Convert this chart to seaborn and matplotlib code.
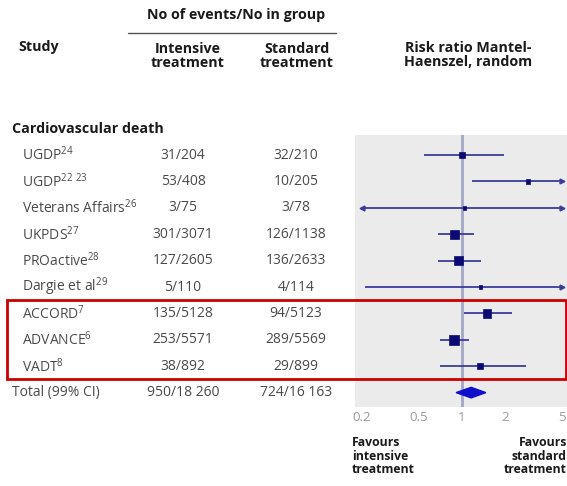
import numpy as np
import pandas as pd
import matplotlib
matplotlib.use("Agg")
import matplotlib.pyplot as plt
import matplotlib.transforms as mtransforms
from matplotlib.patches import Rectangle
from matplotlib.lines import Line2D
import seaborn as sns

# ---------------- data ----------------
study_names = ["UGDP", "UGDP", "Veterans Affairs", "UKPDS", "PROactive",
               "Dargie et al", "ACCORD", "ADVANCE", "VADT"]
study_refs = ["24", "22\\ 23", "26", "27", "28", "29", "7", "6", "8"]
intensive_events = [31, 53, 3, 301, 127, 5, 135, 253, 38]
intensive_n = [204, 408, 75, 3071, 2605, 110, 5128, 5571, 892]
standard_events = [32, 10, 3, 126, 136, 4, 94, 289, 29]
standard_n = [210, 205, 78, 1138, 2633, 114, 5123, 5569, 899]
risk_ratio = [1.00, 2.90, 1.04, 0.89, 0.95, 1.35, 1.50, 0.88, 1.33]
ci_low = [0.54, 1.17, 0.13, 0.68, 0.68, 0.21, 1.03, 0.70, 0.70]
ci_high = [1.97, 6.50, 8.30, 1.21, 1.36, 8.50, 2.24, 1.12, 2.80]
weights = [8.5, 3.0, 0.8, 20.0, 19.0, 1.0, 17.0, 24.0, 6.5]

section_label = "Cardiovascular death"
total_label = "Total (99% CI)"
total_intensive = (950, 18260)
total_standard = (724, 16163)
total_rr, total_lo, total_hi = 1.16, 0.91, 1.47

x_ticks = [0.2, 0.5, 1, 2, 5]
x_tick_labels = ["0.2", "0.5", "1", "2", "5"]
highlight_studies = ["ACCORD", "ADVANCE", "VADT"]

# ---------------- style ----------------
sns.set_theme(style="white")
plt.rcParams["font.family"] = ["Open Sans", "DejaVu Sans"]

W, H = 567, 486
fig = plt.figure(figsize=(W / 100, H / 100), dpi=100)

# panel position (pixels)
pl, pr, pt, pb = 355, 567, 135, 407
ax = fig.add_axes([pl / W, 1 - pb / H, (pr - pl) / W, (pb - pt) / H])
ax.set_facecolor("#ebebeb")
for s in ax.spines.values():
    s.set_visible(False)

n = len(study_names)
rows = np.arange(n)
total_row = n
xmin, xmax = 0.179, 5.42

df = pd.DataFrame({"study": study_names, "rr": risk_ratio, "lo": ci_low,
                   "hi": ci_high, "w": weights, "row": rows})

ax.set_xscale("log")
ax.set_xlim(xmin, xmax)
ax.set_ylim(9.545, -0.758)
ax.axvline(1, color="#a3a6c6", lw=2, zorder=1)

ci_col = "#3b3b9c"
lo_c = np.clip(df["lo"], 0.2, 5)
hi_c = np.clip(df["hi"], 0.2, 5)
ax.hlines(df["row"], lo_c, hi_c, color=ci_col, lw=1.3, zorder=2)
for r, lo, hi in zip(df["row"], df["lo"], df["hi"]):
    if lo < 0.2:
        ax.plot(0.2, r, marker="<", ms=3.5, color=ci_col, zorder=3)
    if hi > 5:
        ax.plot(5, r, marker=">", ms=3.5, color=ci_col, zorder=3)

sns.scatterplot(data=df, x="rr", y="row", size="w", sizes=(7, 48),
                marker="s", color="#0a0a72", edgecolor="#0a0a72",
                linewidth=0.5, legend=False, ax=ax, zorder=4)

dh = 0.2
ax.fill([total_lo, total_rr, total_hi, total_rr],
        [total_row, total_row - dh, total_row, total_row + dh],
        color="#1010cc", zorder=4)

ax.set_xticks(x_ticks)
ax.set_xticklabels(x_tick_labels)
ax.xaxis.set_minor_locator(matplotlib.ticker.NullLocator())
ax.tick_params(axis="x", length=0, pad=3, labelsize=9.5, labelcolor="#9a9a9a")
ax.set_yticks([])
ax.set_xlabel("")
ax.set_ylabel("")

# ---------------- text table ----------------
px = mtransforms.Affine2D().scale(1 / W, -1 / H).translate(0, 1) + fig.transFigure
rowT = mtransforms.blended_transform_factory(px, ax.transData)

hdr = dict(color="#1a1a1a", fontweight="bold", fontsize=10.3)
body = dict(color="#4a4a4a", fontsize=10)

fig.text(236, 15, "No of events/No in group", transform=px, ha="center", va="center", **hdr)
fig.add_artist(Line2D([128, 336], [33, 33], transform=px, color="#555555", lw=1))
fig.text(18, 47, "Study", transform=px, ha="left", va="center", **hdr)
fig.text(188, 56, "Intensive\ntreatment", transform=px, ha="center", va="center",
         linespacing=1.0, **hdr)
fig.text(297, 56, "Standard\ntreatment", transform=px, ha="center", va="center",
         linespacing=1.0, **hdr)
fig.text(468, 55, "Risk ratio Mantel-\nHaenszel, random", transform=px,
         ha="center", va="center", linespacing=1.0, **hdr)

fig.text(12, -1, section_label, transform=rowT, ha="left", va="center", **hdr)


def fmt(v):
    return f"{v:,}".replace(",", " ") if v >= 10000 else str(v)


c1, c2 = 183, 296
for i in range(n):
    label = f"{study_names[i]}$^{{\\mathregular{{{study_refs[i]}}}}}$"
    fig.text(22, i, label, transform=rowT, ha="left", va="center", **body)
    fig.text(c1, i, f"{intensive_events[i]}/{fmt(intensive_n[i])}", transform=rowT,
             ha="center", va="center", **body)
    fig.text(c2, i, f"{standard_events[i]}/{fmt(standard_n[i])}", transform=rowT,
             ha="center", va="center", **body)

fig.text(12, total_row, total_label, transform=rowT, ha="left", va="center", **body)
fig.text(c1, total_row, f"{total_intensive[0]}/{fmt(total_intensive[1])}",
         transform=rowT, ha="center", va="center", **body)
fig.text(c2, total_row, f"{total_standard[0]}/{fmt(total_standard[1])}",
         transform=rowT, ha="center", va="center", **body)

# highlight box around selected studies
idx = [study_names.index(s) for s in highlight_studies]
y0, y1 = min(idx) - 0.5, max(idx) + 0.5
fig.add_artist(Rectangle((7, y0), 559, y1 - y0, transform=rowT, fill=False,
                         edgecolor="#cc0000", lw=2, zorder=10, clip_on=False))

foot = dict(color="#1a1a1a", fontweight="bold", fontsize=8.8, linespacing=1.05)
fig.text(352, 436, "Favours\nintensive\ntreatment", transform=px, ha="left", va="top", **foot)
fig.text(567, 436, "Favours\nstandard\ntreatment", transform=px, ha="right", va="top", **foot)

fig.savefig("out.png", dpi=100)
